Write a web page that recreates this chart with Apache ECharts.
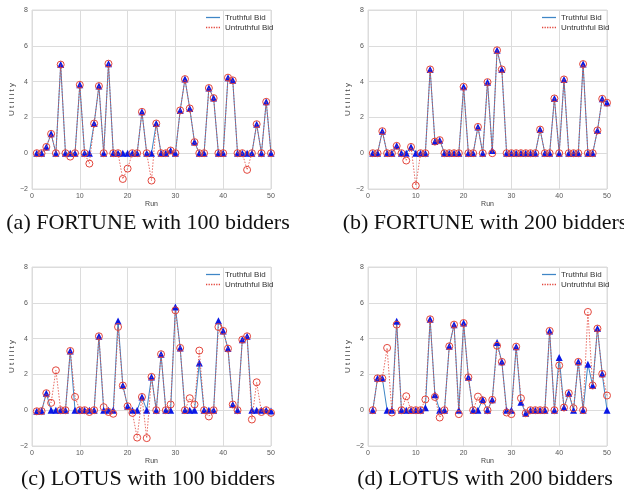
<!DOCTYPE html>
<html>
<head>
<meta charset="utf-8">
<script src="https://cdn.jsdelivr.net/npm/echarts@6/dist/echarts.min.js"></script>
<style>
  html, body { margin: 0; padding: 0; background: #fff; }
  #chart { width: 624px; height: 491px; }
</style>
</head>
<body>
<div id="chart"></div>
<script>
// runs on the x axis
var runs = [1, 2, 3, 4, 5, 6, 7, 8, 9, 10, 11, 12, 13, 14, 15, 16, 17, 18, 19, 20,
  21, 22, 23, 24, 25, 26, 27, 28, 29, 30, 31, 32, 33, 34, 35, 36, 37, 38, 39, 40,
  41, 42, 43, 44, 45, 46, 47, 48, 49, 50];

// (a) FORTUNE, 100 bidders
var fortune100Truthful = [0, 0, 0.35, 1.08, 0, 4.95, 0, 0, 0, 3.82, 0, 0, 1.66, 3.75, 0, 5.0, 0, 0, 0, 0,
  0, 0, 2.31, 0, 0, 1.66, 0, 0, 0.15, 0, 2.39, 4.14, 2.5, 0.62, 0, 0, 3.64, 3.08, 0, 0,
  4.22, 4.07, 0, 0, 0, 0, 1.62, 0, 2.87, 0];
var fortune100Untruthful = [0, 0, 0.35, 1.08, 0, 4.95, 0, -0.19, 0, 3.82, 0, -0.58, 1.66, 3.75, 0, 5.0, 0, 0, -1.44, -0.86,
  0, 0, 2.31, 0, -1.53, 1.66, 0, 0, 0.15, 0, 2.39, 4.14, 2.5, 0.62, 0, 0, 3.64, 3.08, 0, 0,
  4.22, 4.07, 0, 0, -0.93, 0, 1.62, 0, 2.87, 0];

// (b) FORTUNE, 200 bidders
var fortune200Truthful = [0, 0, 1.23, 0, 0, 0.41, 0, 0, 0.35, 0, 0, 0, 4.68, 0.65, 0.73, 0, 0, 0, 0, 3.71,
  0, 0, 1.47, 0, 3.97, 0.15, 5.75, 4.68, 0, 0, 0, 0, 0, 0, 0, 1.32, 0, 0, 3.06, 0,
  4.12, 0, 0, 0, 4.98, 0, 0, 1.27, 3.04, 2.82];
var fortune200Untruthful = [0, 0, 1.23, 0, 0, 0.41, 0, -0.41, 0.35, -1.81, 0, 0, 4.68, 0.65, 0.73, 0, 0, 0, 0, 3.71,
  0, 0, 1.47, 0, 3.97, 0, 5.75, 4.68, 0, 0, 0, 0, 0, 0, 0, 1.32, 0, 0, 3.06, 0,
  4.12, 0, 0, 0, 4.98, 0, 0, 1.27, 3.04, 2.82];

// (c) LOTUS, 100 bidders
var lotus100Truthful = [-0.06, -0.05, 0.95, 0, 0, 0, 0, 3.31, 0, 0, 0, 0, 0, 4.13, 0, 0, 0, 4.99, 1.38, 0.22,
  0, 0, 0.74, 0, 1.86, 0, 3.13, 0, 0, 5.77, 3.48, 0, 0, 0, 2.64, 0, 0, 0, 5.0, 4.43,
  3.44, 0.32, 0, 3.94, 4.13, 0, 0, 0, 0, -0.05];
var lotus100Untruthful = [-0.06, -0.05, 0.95, 0.41, 2.23, 0, 0, 3.31, 0.74, 0, 0, -0.1, 0, 4.13, 0.17, -0.1, -0.2, 4.65, 1.38, 0.22,
  -0.15, -1.53, 0.74, -1.56, 1.86, 0, 3.13, 0, 0.32, 5.58, 3.48, 0, 0.67, 0.32, 3.33, 0, -0.35, 0, 4.65, 4.43,
  3.44, 0.32, 0, 3.94, 4.13, -0.52, 1.56, -0.1, 0, -0.15];

// (d) LOTUS, 200 bidders
var lotus200Truthful = [0, 1.78, 1.78, 0, 0, 4.97, 0, 0, 0, 0, 0, 0.13, 5.08, 0.87, 0, 0, 3.57, 4.78, 0, 4.87,
  1.84, 0, 0, 0.6, 0, 0.58, 3.78, 2.7, 0, 0, 3.55, 0.45, -0.17, 0, 0, 0, 0, 4.43, 0, 2.94,
  0.15, 0.95, 0, 2.7, 0, 2.57, 1.38, 4.56, 2.03, 0];
var lotus200Untruthful = [0, 1.78, 1.78, 3.48, -0.13, 4.78, 0, 0.78, 0, 0, 0, 0.6, 5.08, 0.74, -0.41, 0, 3.57, 4.78, -0.22, 4.87,
  1.84, 0, 0.76, 0.55, 0, 0.58, 3.6, 2.7, -0.13, -0.22, 3.55, 0.67, -0.17, 0, 0, 0, 0, 4.43, 0, 2.5,
  0.15, 0.95, 0.11, 2.7, 0, 5.49, 1.38, 4.56, 2.03, 0.82];

var captions = ['(a) FORTUNE with 100 bidders', '(b) FORTUNE with 200 bidders',
  '(c) LOTUS with 100 bidders', '(d) LOTUS with 200 bidders'];

var panels = [
  { truthful: fortune100Truthful, untruthful: fortune100Untruthful, left: 32, top: 10 },
  { truthful: fortune200Truthful, untruthful: fortune200Untruthful, left: 368, top: 10 },
  { truthful: lotus100Truthful, untruthful: lotus100Untruthful, left: 32, top: 267 },
  { truthful: lotus200Truthful, untruthful: lotus200Untruthful, left: 368, top: 267 }
];

// caption centre x and top y
var captionPos = [[148, 212], [485, 212], [148, 468], [485, 468]];

var truthColor = '#3f86c6';
var untruthColor = '#e3463c';
var tickFont = 'Liberation Sans';

function pairs(ys) {
  return runs.map(function (r, i) { return [r, ys[i]]; });
}

var grids = [], xAxes = [], yAxes = [], series = [], legends = [], texts = [];

panels.forEach(function (p, i) {
  grids.push({
    left: p.left, top: p.top, width: 239, height: 179,
    show: true, borderColor: '#dcdcdc', borderWidth: 1
  });
  xAxes.push({
    type: 'value', gridIndex: i, min: 0, max: 50, interval: 10,
    name: 'Run', nameLocation: 'middle', nameGap: 12,
    nameTextStyle: { fontSize: 7, color: '#444', fontFamily: tickFont },
    axisLine: { show: false }, axisTick: { show: false },
    axisLabel: { fontSize: 7, color: '#555', margin: 4, fontFamily: tickFont },
    splitLine: { lineStyle: { color: '#dcdcdc', width: 1 } }
  });
  yAxes.push({
    type: 'value', gridIndex: i, min: -2, max: 8, interval: 2,
    name: 'U t i l i t y', nameLocation: 'middle', nameGap: 13, nameRotate: 90,
    nameTextStyle: { fontSize: 8, color: '#444', fontFamily: tickFont },
    axisLine: { show: false }, axisTick: { show: false },
    axisLabel: {
      fontSize: 7, color: '#555', margin: 4, fontFamily: tickFont,
      formatter: function (v) { return String(v).replace('-', '\u2212'); }
    },
    splitLine: { lineStyle: { color: '#dcdcdc', width: 1 } }
  });
  series.push({
    name: 'Truthful Bid', type: 'line', xAxisIndex: i, yAxisIndex: i,
    data: pairs(p.truthful), symbol: 'triangle', symbolSize: 7, showAllSymbol: true,
    lineStyle: { color: truthColor, width: 1 },
    itemStyle: { color: '#0a18e6' }, z: 2, silent: true
  });
  series.push({
    name: 'Untruthful Bid', type: 'line', xAxisIndex: i, yAxisIndex: i,
    data: pairs(p.untruthful), symbol: 'circle', symbolSize: 7, showAllSymbol: true,
    lineStyle: { color: untruthColor, width: 1, type: [1.5, 1.5], opacity: 0.8 },
    itemStyle: { color: 'rgba(0,0,0,0)', borderColor: untruthColor, borderWidth: 1 }, z: 3, silent: true
  });
  legends.push({
    orient: 'vertical', left: p.left + 174, top: p.top + 3,
    itemWidth: 14, itemHeight: 1.5, itemGap: 1, padding: 0,
    textStyle: { fontSize: 8, color: '#333', fontFamily: tickFont, lineHeight: 9 },
    data: [
      { name: 'Truthful Bid', icon: 'path://M0,0h22v2h-22z',
        itemStyle: { color: truthColor, borderWidth: 0, opacity: 1 } },
      { name: 'Untruthful Bid', icon: 'path://M0,0h2v2h-2zM4,0h2v2h-2zM8,0h2v2h-2zM12,0h2v2h-2zM16,0h2v2h-2zM20,0h2v2h-2z',
        itemStyle: { color: untruthColor, borderWidth: 0, opacity: 1 } }
    ]
  });
  texts.push({
    type: 'text', x: captionPos[i][0], y: captionPos[i][1],
    style: {
      text: captions[i], textAlign: 'center', textVerticalAlign: 'top',
      font: '22px "Liberation Serif"', fill: '#111'
    }
  });
});

var chart = echarts.init(document.getElementById('chart'));
chart.setOption({
  animation: false,
  backgroundColor: '#fff',
  legend: legends,
  grid: grids,
  xAxis: xAxes,
  yAxis: yAxes,
  series: series,
  graphic: texts
});
</script>
</body>
</html>
